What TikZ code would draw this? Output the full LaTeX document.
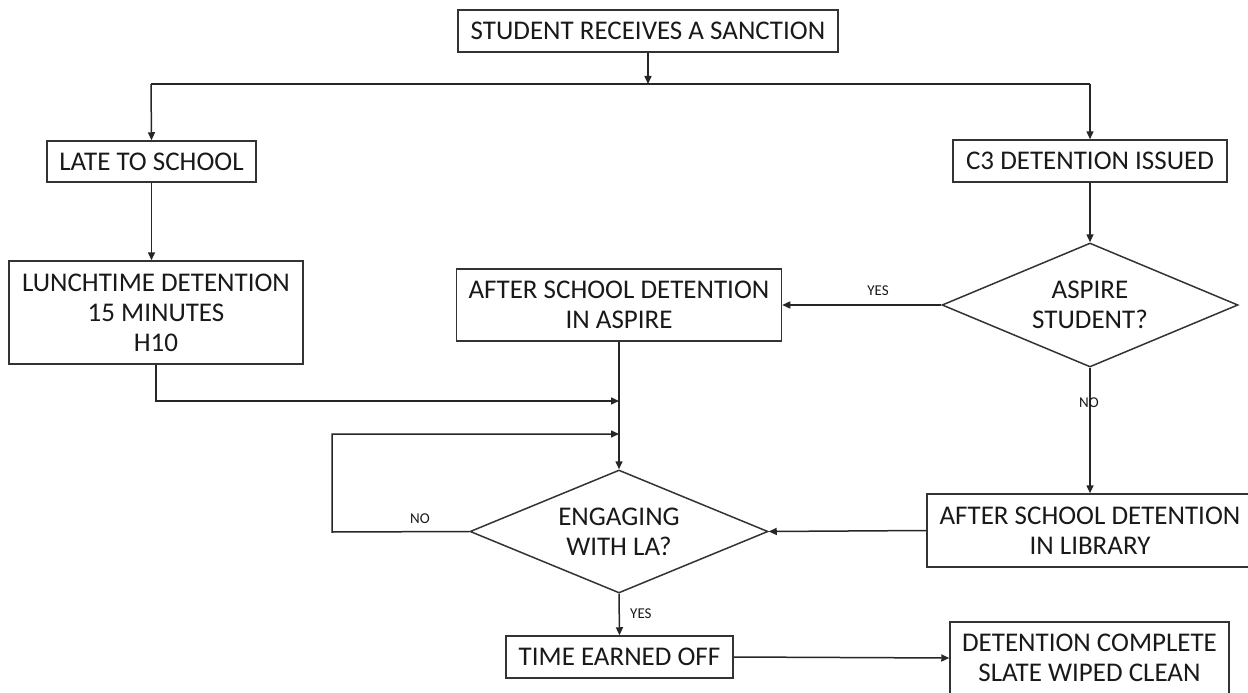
\documentclass[tikz,border=0pt]{standalone}
\usepackage{fontspec}
\setmainfont{Carlito}
\usetikzlibrary{shapes.geometric,arrows.meta}
\begin{document}
\begin{tikzpicture}[x=1pt,y=-1pt,
  every node/.style={font=\fontsize{27}{30}\selectfont, text=black!90},
  stepbox/.style={draw=black!80, line width=1.5pt, inner sep=0pt, align=center},
  decision/.style={draw=black!80, line width=1.5pt, shape=diamond, aspect=2.4, inner sep=0pt, align=center},
  conn/.style={draw=black!85, line width=1.5pt},
  arr/.style={conn, -{Triangle[length=8pt,width=7pt]}},
  lbl/.style={font=\fontsize{15}{17}\selectfont, inner sep=0pt}]
\useasboundingbox (0,0) rectangle (1248,693);

\node[stepbox, minimum width=380, minimum height=42] (top) at (648,31) {STUDENT RECEIVES A SANCTION};
\node[stepbox, minimum width=209, minimum height=41] (late) at (151.5,161.5) {LATE TO SCHOOL};
\node[stepbox, minimum width=274, minimum height=42] (c3) at (1090,161) {C3 DETENTION ISSUED};
\node[stepbox, minimum width=294, minimum height=103] (lunch) at (156,312.5) {LUNCHTIME DETENTION\\15 MINUTES\\H10};
\node[stepbox, minimum width=325, minimum height=72] (asbox) at (619,305) {AFTER SCHOOL DETENTION\\IN ASPIRE};
\node[decision, minimum width=296, minimum height=124] (aspire) at (1090,305) {ASPIRE\\STUDENT?};
\node[decision, minimum width=298, minimum height=123] (engage) at (619,531.5) {ENGAGING\\WITH LA?};
\node[stepbox, minimum width=326, minimum height=73] (library) at (1090,530.5) {AFTER SCHOOL DETENTION\\IN LIBRARY};
\node[stepbox, minimum width=227, minimum height=42] (time) at (619.5,657) {TIME EARNED OFF};
\node[stepbox, minimum width=279, minimum height=72] (complete) at (1089.5,658) {DETENTION COMPLETE\\SLATE WIPED CLEAN};

\coordinate (jl) at (151,84);
\coordinate (jr) at (1090,84);
\coordinate (m1) at (620,401);
\coordinate (m2) at (620,434);
\coordinate (loopc) at (332,532);

\draw[conn] (jl) -- (jr);
\draw[arr] (top.south) -- (top.south |- jl);
\draw[arr] (jl) -- (late.north);
\draw[arr] (jr) -- (c3.north);
\draw[arr] (late.south) -- (late.south |- lunch.north);
\draw[arr] (lunch.south) |- ([xshift=-1pt]m1);
\draw[arr] (asbox.south) -- (engage.north);
\draw[arr] (engage.west) -- (loopc) |- ([xshift=-1pt]m2);
\draw[arr] (c3.south) -- (aspire.north);
\draw[arr] (aspire.west) -- (asbox.east);
\draw[arr] (aspire.south) -- (library.north);
\draw[arr] (library.west) -- (engage.east);
\draw[arr] (engage.south) -- (time.north);
\draw[arr] (time.east) -- (complete.west);

\node[lbl] (lyes1) at (878,291) {YES};
\node[lbl] (lno1) at (1089,403) {NO};
\node[lbl] (lno2) at (420,519) {NO};
\node[lbl, anchor=west] (lyes2) at (630,614) {YES};
\end{tikzpicture}
\end{document}
